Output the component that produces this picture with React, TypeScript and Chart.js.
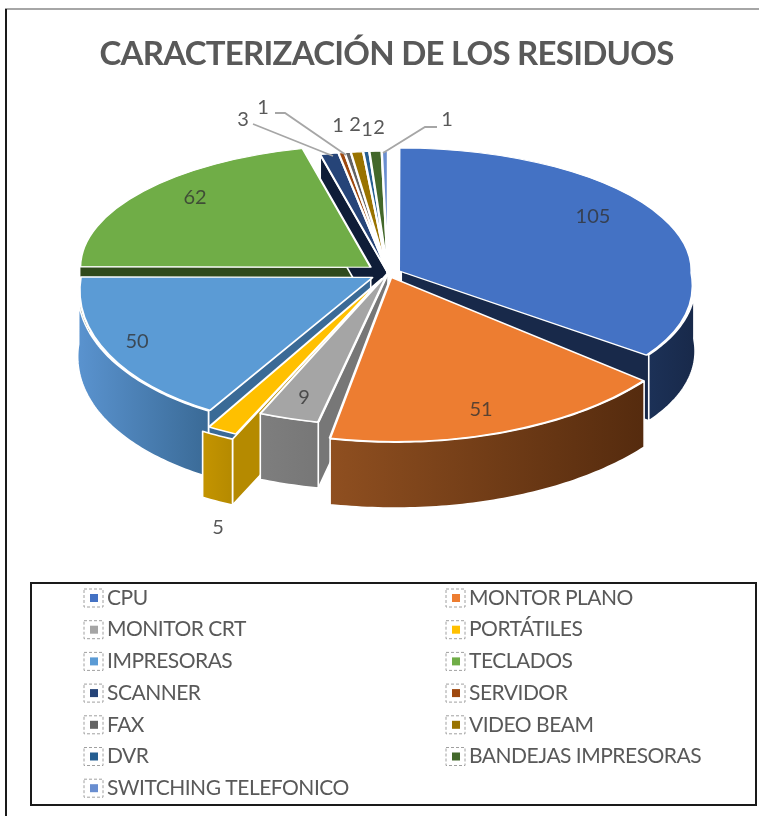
import React, { useEffect, useRef } from "react";
import { Chart, registerables } from "chart.js";

Chart.register(...registerables);

const categories = [
  "CPU", "MONTOR PLANO", "MONITOR CRT", "PORTÁTILES", "IMPRESORAS", "TECLADOS", "SCANNER",
  "SERVIDOR", "FAX", "VIDEO BEAM", "DVR", "BANDEJAS IMPRESORAS", "SWITCHING TELEFONICO",
];
const values = [105, 51, 9, 5, 50, 62, 3, 1, 1, 2, 1, 2, 1];
const topColors = [
  "#4472C4", "#ED7D31", "#A5A5A5", "#FFC000", "#5B9BD5", "#70AD47", "#264478",
  "#9E480E", "#636363", "#997300", "#255E91", "#43682B", "#698ED0",
];
const wallLeft = [
  "#1c3157", "#8f4f20", "#7e7e7e", "#c49400", "#5a93cf", "#2f4a1c", "#0f1d38",
  "#5f2b08", "#3b3b3b", "#5b4500", "#163857", "#283e1a", "#3f5580",
];
const wallRight = [
  "#18294a", "#552b0e", "#777777", "#b58a00", "#3a6a96", "#2f4a1c", "#0f1d38",
  "#5f2b08", "#3b3b3b", "#5b4500", "#163857", "#283e1a", "#3f5580",
];
const explode = [48, 32, 0, 42, 68, 88, 0, 0, 0, 0, 0, 0, 0];
const wallOrder = [5, 12, 11, 10, 9, 8, 7, 6, 0, 4, 3, 2, 1];

const W = 759;
const H = 816;
const RADIUS = 290;
const CX = 388;
const CY = 273;
const K_BACK = 0.42;
const DEFAULT_FRONT: [number, number, number] = [1, 0, 0.55];
// perspective of the near half, per slice: x scale, x shear, y scale
const frontView: Record<number, [number, number, number]> = {
  0: [1, 0.113, 0.46],
  1: [1.107, 0.0135, 0.565],
  2: [1.092, -0.02, 0.525],
  3: [1.071, -0.076, 0.565],
  4: [1, -0.083, 0.52],
};
const DEPTH = 66;

// label layout: [x, y] per category, in page pixels
const labelPos: [number, number][] = [
  [593, 217], [481, 410], [304, 398], [218, 528], [137, 342], [195, 198], [243, 120],
  [263, 108], [338, 126], [355, 125], [367, 130], [379, 128], [447, 120],
];
const leaders: [number, number][][] = [
  [[253, 124], [333, 156]],
  [[275, 113], [285, 113], [346, 155]],
  [[437, 127], [425, 127], [383, 153]],
];
const outsideLabels = new Set([3, 6, 7, 8, 9, 10, 11, 12]);

const viewOf = (i: number) => frontView[i] || DEFAULT_FRONT;
const px = (rx: number, ry: number, i: number): [number, number] => {
  if (ry < 0) return [CX + rx, CY + ry * K_BACK];
  const [sx, sh, ky] = viewOf(i);
  return [CX + sx * rx + sh * ry, CY + ky * ry];
};

function arcGeom(arc: any) {
  const offset = (arc.options.offset || 0) / 4;
  const mid = (arc.startAngle + arc.endAngle) / 2;
  const circ = arc.endAngle - arc.startAngle;
  const fix = 1 - Math.sin(Math.min(Math.PI, circ));
  const radiusOffset = offset * fix;
  const disp = offset + radiusOffset;
  return {
    ox: Math.cos(mid) * disp,
    oy: Math.sin(mid) * disp,
    r: arc.outerRadius + radiusOffset,
    a: arc.startAngle,
    b: arc.endAngle,
  };
}

function polygon(ctx: CanvasRenderingContext2D, pts: [number, number][], fill: string | CanvasGradient) {
  ctx.beginPath();
  pts.forEach(([x, y], i) => (i ? ctx.lineTo(x, y) : ctx.moveTo(x, y)));
  ctx.closePath();
  ctx.fillStyle = fill;
  ctx.fill();
  ctx.strokeStyle = "#ffffff";
  ctx.lineWidth = 1.6;
  ctx.lineJoin = "round";
  ctx.stroke();
}

function drawWalls(chart: any) {
  const ctx: CanvasRenderingContext2D = chart.ctx;
  const arcs: any[] = chart.getDatasetMeta(0).data;
  ctx.save();
  for (const i of wallOrder) {
    const g = arcGeom(arcs[i]);
    const edge = (ang: number) => {
      const apex = px(g.ox, g.oy, i);
      const rim = px(g.ox + Math.cos(ang) * g.r, g.oy + Math.sin(ang) * g.r, i);
      polygon(ctx, [apex, rim, [rim[0], rim[1] + DEPTH], [apex[0], apex[1] + DEPTH]], wallRight[i]);
    };
    if (Math.cos(g.a) < 0) edge(g.a);
    if (Math.cos(g.b) > 0) edge(g.b);
    const from = Math.max(g.a, 0);
    const to = Math.min(g.b, Math.PI);
    if (to > from) {
      const top: [number, number][] = [];
      const steps = Math.max(2, Math.ceil((to - from) * 60));
      for (let s = 0; s <= steps; s++) {
        const t = from + ((to - from) * s) / steps;
        top.push(px(g.ox + Math.cos(t) * g.r, g.oy + Math.sin(t) * g.r, i));
      }
      const bottom = top.map(([x, y]) => [x, y + DEPTH] as [number, number]).reverse();
      const xs = top.map((p) => p[0]);
      const grad = ctx.createLinearGradient(Math.min(...xs), 0, Math.max(...xs), 0);
      grad.addColorStop(0, wallLeft[i]);
      grad.addColorStop(1, wallRight[i]);
      polygon(ctx, [...top, ...bottom], grad);
    }
  }
  ctx.restore();
}

const pie3d = {
  id: "pie3d",
  beforeDraw(chart: any) {
    const ctx: CanvasRenderingContext2D = chart.ctx;
    ctx.save();
    ctx.fillStyle = "#ffffff";
    ctx.fillRect(0, 0, W, H);
    ctx.fillStyle = "#a6a6a6";
    ctx.fillRect(5, 8, W - 5, 2);
    ctx.fillStyle = "#1a1a1a";
    ctx.fillRect(5, 9, 2, H - 9);
    ctx.restore();
    (ctx as any).letterSpacing = "-0.75px"; // narrower title, as in the reference
  },
  beforeDatasetsDraw(chart: any) {
    const ctx: CanvasRenderingContext2D = chart.ctx;
    (ctx as any).letterSpacing = "0px";
    drawWalls(chart);
    const arc = chart.getDatasetMeta(0).data[0];
    ctx.save();
    ctx.beginPath();
    ctx.rect(0, 0, W, CY + 0.5);
    ctx.clip();
    ctx.translate(CX, CY);
    ctx.scale(1, K_BACK);
    ctx.translate(-arc.x, -arc.y);
  },
  afterDatasetsDraw(chart: any) {
    const ctx: CanvasRenderingContext2D = chart.ctx;
    ctx.restore();
    const arcs: any[] = chart.getDatasetMeta(0).data;
    ctx.save();
    ctx.beginPath();
    ctx.rect(0, CY, W, H - CY);
    ctx.clip();
    arcs.forEach((arc, i) => {
      const [sx, sh, ky] = viewOf(i);
      ctx.save();
      ctx.translate(CX, CY);
      ctx.transform(sx, 0, sh, ky, 0, 0);
      ctx.translate(-arc.x, -arc.y);
      arc.draw(ctx, chart.chartArea);
      ctx.restore();
    });
    ctx.restore();
  },
  afterDraw(chart: any) {
    const ctx: CanvasRenderingContext2D = chart.ctx;
    ctx.save();
    // leader lines
    ctx.strokeStyle = "#a6a6a6";
    ctx.lineWidth = 1.8;
    for (const line of leaders) {
      ctx.beginPath();
      line.forEach(([x, y], i) => (i ? ctx.lineTo(x, y) : ctx.moveTo(x, y)));
      ctx.stroke();
    }
    // value labels
    ctx.font = "20px Lato";
    ctx.textAlign = "center";
    ctx.textBaseline = "middle";
    values.forEach((v, i) => {
      ctx.fillStyle = outsideLabels.has(i) ? "#595959" : "rgba(50,50,50,0.78)";
      ctx.fillText(String(v), labelPos[i][0], labelPos[i][1]);
    });
    // legend
    ctx.strokeStyle = "#1a1a1a";
    ctx.lineWidth = 2;
    ctx.strokeRect(31, 583, 725, 222);
    ctx.font = "21px Lato";
    ctx.textAlign = "left";
    (ctx as any).letterSpacing = "-0.5px";
    categories.forEach((name, i) => {
      const col = i % 2;
      const row = Math.floor(i / 2);
      const sx = col ? 456 : 94;
      const y = 598 + row * 31.7;
      ctx.setLineDash([3, 2]);
      ctx.lineWidth = 1;
      ctx.strokeStyle = "#a0a0a0";
      ctx.strokeRect(sx - 10, y - 9, 19, 18);
      ctx.setLineDash([]);
      ctx.fillStyle = topColors[i];
      ctx.fillRect(sx - 4, y - 4, 8, 8);
      ctx.fillStyle = "#595959";
      ctx.fillText(name, col ? 469 : 107, y);
    });
    (ctx as any).letterSpacing = "0px";
    ctx.restore();
  },
};

export default function App() {
  const ref = useRef<HTMLCanvasElement>(null);
  useEffect(() => {
    const chart = new Chart(ref.current as HTMLCanvasElement, {
      type: "pie",
      data: {
        labels: categories,
        datasets: [
          {
            data: values,
            backgroundColor: topColors,
            borderColor: "#ffffff",
            borderWidth: 2.4,
            offset: explode,
            clip: false,
          } as any,
        ],
      },
      options: {
        responsive: false,
        animation: false,
        radius: RADIUS,
        layout: { padding: { left: 14, top: 35 } },
        plugins: {
          legend: { display: false },
          tooltip: { enabled: false },
          title: {
            display: true,
            text: "CARACTERIZACIÓN DE LOS RESIDUOS",
            color: "#595959",
            font: { family: "Lato", size: 33, weight: "bold" },
            padding: 0,
          },
        },
      } as any,
      plugins: [pie3d],
    });
    return () => chart.destroy();
  }, []);
  return (
    <div style={{ position: "absolute", left: 0, top: 0 }}>
      <canvas ref={ref} width={W} height={H} style={{ display: "block" }} />
    </div>
  );
}
